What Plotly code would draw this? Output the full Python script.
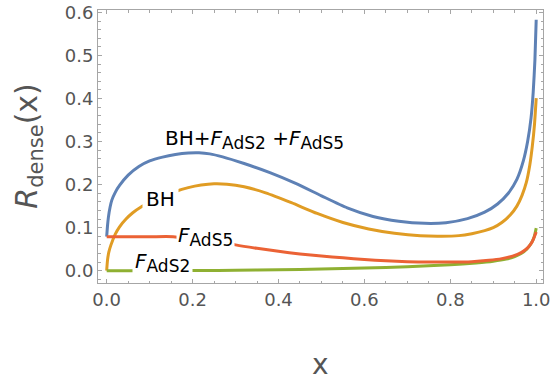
import plotly.graph_objects as go

# ---- data ----
x_total = [0.000, 0.002, 0.004, 0.008, 0.012, 0.020, 0.030, 0.050, 0.075, 0.100,
           0.130, 0.160, 0.190, 0.215, 0.240, 0.270, 0.320, 0.380, 0.440, 0.500,
           0.560, 0.620, 0.680, 0.740, 0.790, 0.840, 0.880, 0.910, 0.935, 0.955,
           0.970, 0.980, 0.988, 0.993, 0.997, 1.000]
y_total = [0.079, 0.105, 0.124, 0.148, 0.164, 0.182, 0.198, 0.222, 0.242, 0.255,
           0.264, 0.270, 0.2735, 0.274, 0.2715, 0.2645, 0.249, 0.228, 0.203, 0.174,
           0.146, 0.126, 0.115, 0.110, 0.1115, 0.121, 0.136, 0.155, 0.180, 0.212,
           0.255, 0.300, 0.355, 0.415, 0.490, 0.583]

x_bh = [0.000, 0.002, 0.005, 0.010, 0.020, 0.030, 0.045, 0.060, 0.080, 0.100,
        0.130, 0.160, 0.190, 0.220, 0.250, 0.280, 0.320, 0.370, 0.430, 0.490,
        0.550, 0.610, 0.670, 0.730, 0.780, 0.820, 0.850, 0.880, 0.900, 0.920,
        0.940, 0.955, 0.967, 0.977, 0.985, 0.991, 0.996, 1.000]
y_bh = [0.000, 0.025, 0.043, 0.060, 0.085, 0.102, 0.120, 0.134, 0.148, 0.158,
        0.172, 0.184, 0.193, 0.199, 0.202, 0.201, 0.195, 0.181, 0.158, 0.133,
        0.112, 0.097, 0.087, 0.081, 0.080, 0.0815, 0.086, 0.093, 0.100, 0.112,
        0.130, 0.150, 0.175, 0.205, 0.245, 0.290, 0.340, 0.401]

x_ads2 = [0.000, 0.050, 0.100, 0.220, 0.300, 0.400, 0.500, 0.600, 0.700, 0.800,
          0.860, 0.900, 0.930, 0.950, 0.965, 0.978, 0.988, 0.995, 1.000]
y_ads2 = [0.000, 0.000, 0.000, 0.0005, 0.001, 0.002, 0.004, 0.006, 0.009, 0.014,
          0.018, 0.022, 0.027, 0.033, 0.040, 0.050, 0.063, 0.078, 0.099]

x_ads5 = [0.000, 0.100, 0.155, 0.200, 0.270, 0.300, 0.350, 0.400, 0.450, 0.500,
          0.550, 0.600, 0.650, 0.700, 0.750, 0.800, 0.850, 0.890, 0.920, 0.945,
          0.965, 0.980, 0.990, 1.000]
y_ads5 = [0.079, 0.079, 0.079, 0.074, 0.066, 0.060, 0.052, 0.045, 0.039, 0.034,
          0.030, 0.026, 0.023, 0.021, 0.020, 0.020, 0.021, 0.024, 0.028, 0.034,
          0.042, 0.053, 0.066, 0.090]

x_ticks = [0.0, 0.2, 0.4, 0.6, 0.8, 1.0]
y_ticks = [0.0, 0.1, 0.2, 0.3, 0.4, 0.5, 0.6]

BLUE = "#5E81B5"
ORANGE = "#E09C24"
GREEN = "#8FB032"
RED = "#EB6235"
FRAME = "#a6a6a6"
TICKTXT = "#555555"
FONT = "DejaVu Sans, Liberation Sans, Arial, sans-serif"

fig = go.Figure()
for xs, ys, col in [(x_total, y_total, BLUE), (x_bh, y_bh, ORANGE),
                    (x_ads2, y_ads2, GREEN), (x_ads5, y_ads5, RED)]:
    fig.add_trace(go.Scatter(x=xs, y=ys, mode="lines",
                             line=dict(color=col, width=3, shape="spline", smoothing=0.6),
                             hoverinfo="skip"))

axis_common = dict(showline=True, linecolor=FRAME, linewidth=1, mirror="ticks",
                   ticks="inside", ticklen=4, tickcolor=FRAME, tickwidth=1,
                   showgrid=False, zeroline=False, automargin=False,
                   ticklabeloverflow="allow",
                   tickfont=dict(family=FONT, size=18, color=TICKTXT))

fig.update_xaxes(range=[-0.0202, 1.0158], tickvals=x_ticks,
                 ticktext=[f"{v:.1f}" for v in x_ticks],
                 minor=dict(dtick=0.05, tick0=0, ticks="inside", ticklen=2.5,
                            tickcolor=FRAME),
                 **axis_common)
fig.update_yaxes(range=[-0.0286, 0.6058], tickvals=y_ticks,
                 ticktext=[f"{v:.1f}" for v in y_ticks],
                 minor=dict(dtick=0.02, tick0=0, ticks="inside", ticklen=2.5,
                            tickcolor=FRAME),
                 **axis_common)

lab_font = dict(family=FONT, size=20, color="black")
SUB = '<sub><span style="font-size:17px">{}</span></sub>'
fig.add_annotation(x=0.131, y=0.304, xref="x", yref="y", xanchor="left", yanchor="middle",
                   text="BH+<i>F</i>" + SUB.format("AdS2") + " +<i>F</i>" + SUB.format("AdS5"),
                   showarrow=False, font=lab_font)
fig.add_annotation(x=0.1256, y=0.1667, xref="x", yref="y", xanchor="center", yanchor="middle",
                   text="BH", showarrow=False, font=lab_font, bgcolor="white", borderpad=3)
fig.add_annotation(x=0.161, y=0.079, xref="x", yref="y", xanchor="left", yanchor="middle",
                   text="<i>F</i>" + SUB.format("AdS5"), showarrow=False, font=lab_font,
                   bgcolor="white", borderpad=1)
fig.add_annotation(x=0.131, y=0.02, xref="x", yref="y", xanchor="center", yanchor="middle",
                   text="<i>F</i>" + SUB.format("AdS2"), showarrow=False, font=lab_font,
                   bgcolor="white", borderpad=2)

# axis titles
fig.add_annotation(x=0.5, y=-0.30, xref="paper", yref="paper", xanchor="center",
                   yanchor="middle", text="x", showarrow=False,
                   font=dict(family=FONT, size=28, color=TICKTXT))
fig.add_annotation(x=-0.157, y=0.5, xref="paper", yref="paper", xanchor="center",
                   yanchor="middle", text="<i>R</i><sub>dense</sub>(x)", textangle=-90,
                   showarrow=False, font=dict(family=FONT, size=30, color=TICKTXT))

fig.update_layout(width=553, height=379, margin=dict(l=98, r=9.5, t=10, b=96),
                  plot_bgcolor="white", paper_bgcolor="white", showlegend=False,
                  font=dict(family=FONT))

# remove the default page margin so the figure fills the window exactly
fig.write_html("out.html", config={"displayModeBar": False},
               post_script="document.body.style.margin='0';")
